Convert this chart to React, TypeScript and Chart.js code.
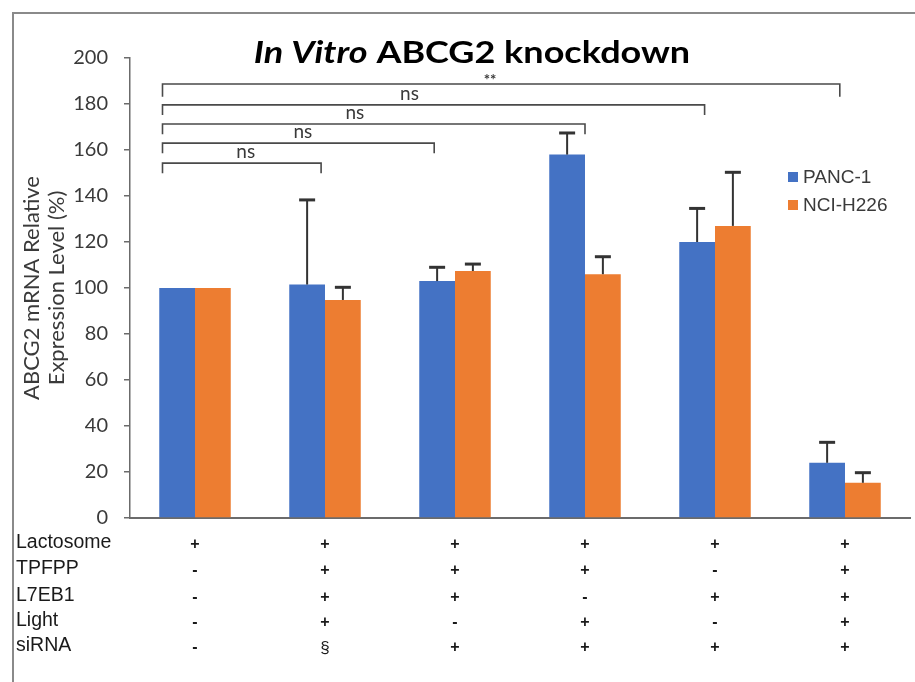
import { useEffect, useRef } from 'react';
import { Chart, registerables } from 'chart.js';

Chart.register(...registerables);

// ---- data ----
const categories = ['1', '2', '3', '4', '5', '6'];
const seriesNames = ['PANC-1', 'NCI-H226'];
const panc1 = [100, 101.5, 103, 158, 120, 24];
const panc1ErrTop = [100, 138.3, 109, 167.4, 134.6, 32.9];
const nci = [100, 94.8, 107.4, 106, 127, 15.3];
const nciErrTop = [100, 100.3, 110.4, 113.6, 150.3, 19.7];

const yTicksMin = 0;
const yTicksMax = 200;
const yTicksStep = 20;

const rowLabels = ['Lactosome', 'TPFPP', 'L7EB1', 'Light', 'siRNA'];
const lactosome = ['+', '+', '+', '+', '+', '+'];
const tpfpp = ['-', '+', '+', '+', '-', '+'];
const l7eb1 = ['-', '+', '+', '-', '+', '+'];
const light = ['-', '+', '-', '+', '-', '+'];
const sirna = ['-', '§', '+', '+', '+', '+'];
const tableRows = [lactosome, tpfpp, l7eb1, light, sirna];

// significance brackets (category-index units / value units)
const bracketFrom = [-0.25, -0.25, -0.25, -0.25, -0.25];
const bracketTo = [0.97, 1.84, 3.0, 3.92, 4.96];
const bracketY = [154.3, 163, 171.3, 179.6, 188.7];
const bracketDrop = [4.4, 4.4, 4.4, 4.4, 5.6];
const bracketLabel = ['ns', 'ns', 'ns', 'ns', '**'];
const bracketLabelX = [0.39, 0.83, 1.23, 1.65, 2.27];

const BLUE = '#4472C4';
const ORANGE = '#ED7D31';
const AXIS = '#6b6b6b';
const TEXT = '#3a3a3a';

const overlayPlugin = {
  id: 'overlay',
  beforeDraw(chart: any) {
    const { ctx } = chart;
    ctx.save();
    ctx.fillStyle = '#ffffff';
    ctx.fillRect(0, 0, chart.width, chart.height);
    // frame
    ctx.strokeStyle = '#8a8a8a';
    ctx.lineWidth = 2;
    ctx.beginPath();
    ctx.moveTo(13, chart.height);
    ctx.lineTo(13, 13);
    ctx.lineTo(chart.width, 13);
    ctx.stroke();
    ctx.restore();
  },
  afterDatasetsDraw(chart: any) {
    const { ctx } = chart;
    const yScale = chart.scales.y;
    const xScale = chart.scales.x;
    const errs = [panc1ErrTop, nciErrTop];
    ctx.save();
    ctx.strokeStyle = '#333333';
    chart.data.datasets.forEach((ds: any, di: number) => {
      const meta = chart.getDatasetMeta(di);
      meta.data.forEach((bar: any, i: number) => {
        const top = errs[di][i];
        if (top <= ds.data[i]) return;
        const yTop = yScale.getPixelForValue(top);
        ctx.lineWidth = 2;
        ctx.beginPath();
        ctx.moveTo(bar.x, bar.y);
        ctx.lineTo(bar.x, yTop);
        ctx.stroke();
        ctx.lineWidth = 3;
        ctx.beginPath();
        ctx.moveTo(bar.x - 8, yTop);
        ctx.lineTo(bar.x + 8, yTop);
        ctx.stroke();
      });
    });

    // brackets
    const p0 = xScale.getPixelForValue(0);
    const step = xScale.getPixelForValue(1) - p0;
    const ix = (v: number) => p0 + v * step;
    ctx.strokeStyle = '#4a4a4a';
    ctx.lineWidth = 1.6;
    ctx.fillStyle = TEXT;
    ctx.textAlign = 'center';
    bracketY.forEach((yv, k) => {
      const y = yScale.getPixelForValue(yv);
      const yd = yScale.getPixelForValue(yv - bracketDrop[k]);
      const x1 = ix(bracketFrom[k]);
      const x2 = ix(bracketTo[k]);
      ctx.beginPath();
      ctx.moveTo(x1, yd);
      ctx.lineTo(x1, y);
      ctx.lineTo(x2, y);
      ctx.lineTo(x2, yd);
      ctx.stroke();
      const lab = bracketLabel[k];
      if (lab === '**') {
        ctx.font = 'bold 15px Lato';
        ctx.fillText(lab, ix(bracketLabelX[k]), y + 1);
      } else {
        ctx.font = '19px Lato';
        ctx.fillText(lab, ix(bracketLabelX[k]), y - 5);
      }
    });
    ctx.restore();
  },
  afterDraw(chart: any) {
    const { ctx } = chart;
    const xScale = chart.scales.x;
    ctx.save();
    // title (slightly widened to match the source's aspect)
    const part1 = 'In Vitro';
    const part2 = ' ABCG2 knockdown';
    const sxScale = 1.2;
    ctx.fillStyle = '#000000';
    ctx.textBaseline = 'alphabetic';
    ctx.font = 'italic bold 30px Lato';
    const w1 = ctx.measureText(part1).width;
    ctx.font = 'bold 30px Lato';
    const w2 = ctx.measureText(part2).width;
    const cx = 472;
    ctx.save();
    ctx.translate(cx, 63);
    ctx.scale(sxScale, 1);
    const sx = -(w1 + w2) / 2;
    ctx.font = 'italic bold 30px Lato';
    ctx.textAlign = 'left';
    ctx.fillText(part1, sx, 0);
    ctx.font = 'bold 30px Lato';
    ctx.fillText(part2, sx + w1, 0);
    ctx.restore();

    // legend
    const colors = [BLUE, ORANGE];
    ctx.font = '19px "Liberation Sans"';
    ctx.textBaseline = 'middle';
    ctx.textAlign = 'left';
    seriesNames.forEach((name, k) => {
      const yc = 177 + k * 28;
      ctx.fillStyle = colors[k];
      ctx.fillRect(788, yc - 5, 10, 10);
      ctx.fillStyle = TEXT;
      ctx.fillText(name, 803, yc + 1);
    });

    // condition table
    const rowY = [543, 569, 596, 621, 646];
    ctx.fillStyle = '#1a1a1a';
    ctx.textAlign = 'left';
    ctx.font = '19.5px "Liberation Sans"';
    rowLabels.forEach((lab, r) => {
      ctx.fillText(lab, 16, rowY[r]);
    });
    ctx.textAlign = 'center';
    tableRows.forEach((row, r) => {
      row.forEach((sym, i) => {
        const x = xScale.getPixelForValue(i);
        ctx.font = sym === '§' ? '17px "Liberation Sans"' : 'bold 16px "Liberation Sans"';
        ctx.fillText(sym, x, rowY[r] + 2);
      });
    });
    ctx.restore();
  },
};

export default function App() {
  const ref = useRef<HTMLCanvasElement | null>(null);
  useEffect(() => {
    if (!ref.current) return;
    const chart = new Chart(ref.current, {
      type: 'bar',
      data: {
        labels: categories,
        datasets: [
          { label: seriesNames[0], data: panc1, backgroundColor: BLUE, borderWidth: 0 },
          { label: seriesNames[1], data: nci, backgroundColor: ORANGE, borderWidth: 0 },
        ],
      },
      options: {
        responsive: false,
        animation: false,
        devicePixelRatio: 1,
        layout: { padding: { top: 58, right: 5, left: 0, bottom: 0 } },
        datasets: { bar: { categoryPercentage: 0.55, barPercentage: 1.0 } },
        plugins: {
          legend: { display: false },
          title: { display: false },
          tooltip: { enabled: false },
        },
        scales: {
          x: {
            type: 'category',
            grid: { display: false },
            ticks: { display: false },
            border: { display: true, color: AXIS, width: 2 },
            afterFit: (s: any) => {
              s.height = 164;
            },
          },
          y: {
            min: yTicksMin,
            max: yTicksMax,
            ticks: {
              stepSize: yTicksStep,
              font: { family: 'Lato', size: 20 },
              color: TEXT,
              padding: 16,
            },
            grid: { drawOnChartArea: false, drawTicks: true, tickLength: 6, color: AXIS, lineWidth: 1.5 },
            border: { display: true, color: AXIS, width: 1.5 },
            title: {
              display: true,
              text: ['ABCG2 mRNA Relative', 'Expression Level (%)'],
              font: { family: 'Lato', size: 22, lineHeight: 1.14 },
              color: TEXT,
              padding: { top: 19, bottom: 0 },
            },
            afterFit: (s: any) => {
              s.width = 130;
            },
          },
        },
      },
      plugins: [overlayPlugin],
    });
    return () => chart.destroy();
  }, []);
  return (
    <div style={{ position: 'fixed', left: 0, top: 0, width: 915, height: 682, background: '#fff' }}>
      <canvas ref={ref} width={915} height={682} style={{ width: 915, height: 682, display: 'block' }} />
    </div>
  );
}
